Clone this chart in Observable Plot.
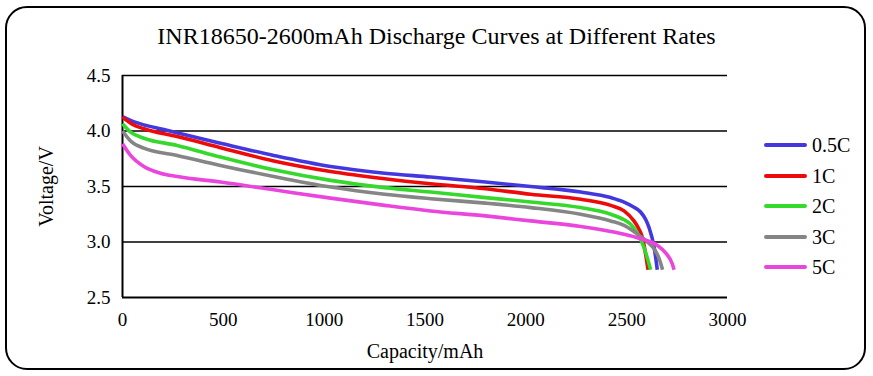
<!DOCTYPE html>
<html>
<head>
<meta charset="utf-8">
<script src="https://cdn.jsdelivr.net/npm/d3@7"></script>
<script src="https://cdn.jsdelivr.net/npm/@observablehq/plot@0.6"></script>
<style>
  html, body { margin: 0; padding: 0; background: #fff; }
  #wrap { position: relative; width: 873px; height: 376px; overflow: hidden; font-family: "Liberation Serif", "Times New Roman", serif; }
  #frame { position: absolute; left: 5px; top: 6px; width: 861px; height: 364px; box-sizing: border-box; border: 2px solid #000; border-radius: 22px; }
  #title { position: absolute; left: 0; width: 873px; top: 21px; text-align: center; font-size: 24px; color: #000; line-height: 30px; font-family: "Liberation Serif", serif; }
  #legend { position: absolute; left: 764px; top: 130px; }
  .row { display: flex; align-items: center; height: 30.5px; }
  .sw { width: 43px; height: 4px; border-radius: 2px; margin-right: 5px; }
  .lb { font-size: 20px; color: #000; line-height: 20px; font-family: "Liberation Serif", serif; }
  #chart { position: absolute; left: 0; top: 0; }
  #chart svg text { font-family: "Liberation Serif", serif; }
  #chart svg g[aria-label="x-axis label"] text, #chart svg g[aria-label="y-axis label"] text { font-size: 20px; }
</style>
</head>
<body>
<div id="wrap">
  <div id="frame"></div>
  <div id="title"></div>
  <div id="chart"></div>
  <div id="legend"></div>
</div>
<script>
const title = "INR18650-2600mAh Discharge Curves at Different Rates";
const xLabel = "Capacity/mAh";
const yLabel = "Voltage/V";
const xTicks = [0, 500, 1000, 1500, 2000, 2500, 3000];
const yTicks = [2.5, 3.0, 3.5, 4.0, 4.5];
const seriesNames = ["0.5C", "1C", "2C", "3C", "5C"];
const seriesColors = ["#4338e0", "#ee0a0a", "#35d92b", "#858585", "#ea45dc"];

// capacity (mAh), voltage (V)
const cap05 = [0, 40, 106, 200, 300, 486, 750, 1032, 1300, 1528, 1800, 2024, 2272, 2421, 2487, 2530, 2569, 2595, 2611, 2636, 2652];
const v05   = [4.13, 4.095, 4.055, 4.015, 3.97, 3.89, 3.78, 3.68, 3.62, 3.585, 3.54, 3.50, 3.45, 3.40, 3.36, 3.32, 3.27, 3.20, 3.13, 2.955, 2.75];

const cap1 = [0, 50, 106, 271, 486, 750, 1032, 1300, 1528, 1800, 2024, 2272, 2421, 2487, 2536, 2560, 2578, 2594, 2606];
const v1   = [4.125, 4.06, 4.02, 3.95, 3.85, 3.73, 3.635, 3.57, 3.525, 3.48, 3.43, 3.385, 3.33, 3.28, 3.19, 3.12, 3.04, 2.89, 2.75];

const cap2 = [0, 40, 106, 271, 486, 750, 1032, 1300, 1528, 1800, 2024, 2272, 2421, 2487, 2520, 2553, 2586, 2619];
const v2   = [4.065, 3.99, 3.935, 3.87, 3.765, 3.65, 3.555, 3.49, 3.45, 3.40, 3.36, 3.31, 3.25, 3.20, 3.16, 3.08, 2.95, 2.75];

const cap3 = [0, 40, 106, 271, 486, 750, 1032, 1300, 1528, 1800, 2024, 2272, 2421, 2487, 2569, 2610, 2636, 2661, 2678];
const v3   = [4.0, 3.91, 3.845, 3.78, 3.69, 3.59, 3.495, 3.43, 3.39, 3.35, 3.31, 3.25, 3.19, 3.15, 3.05, 2.99, 2.94, 2.85, 2.75];

const cap5 = [0, 40, 106, 188, 271, 486, 750, 1032, 1300, 1528, 1800, 2024, 2272, 2421, 2487, 2569, 2652, 2694, 2727, 2735];
const v5   = [3.885, 3.78, 3.68, 3.62, 3.59, 3.54, 3.47, 3.395, 3.33, 3.28, 3.235, 3.19, 3.14, 3.095, 3.07, 3.03, 2.97, 2.90, 2.80, 2.75];

const caps = [cap05, cap1, cap2, cap3, cap5];
const volts = [v05, v1, v2, v3, v5];
const data = seriesNames.flatMap((s, i) => caps[i].map((c, j) => ({series: s, cap: c, v: volts[i][j]})));

document.getElementById("title").textContent = title;

const chart = Plot.plot({
  width: 873,
  height: 376,
  marginLeft: 122,
  marginRight: 146,
  marginTop: 75,
  marginBottom: 79,
  style: { fontFamily: "Liberation Serif, serif", fontSize: "19px", color: "#000", background: "transparent", overflow: "visible" },
  x: { domain: [0, 3000] },
  y: { domain: [2.5, 4.5] },
  color: { domain: seriesNames, range: seriesColors },
  marks: [
    Plot.gridY(yTicks.slice(1), { stroke: "#000", strokeOpacity: 1, strokeWidth: 1.3 }),
    Plot.ruleY([2.5], { stroke: "#000", strokeWidth: 2 }),
    Plot.ruleX([0], { stroke: "#000", strokeWidth: 2 }),
    Plot.line(data, { x: "cap", y: "v", z: "series", stroke: "series", curve: "monotone-x", strokeWidth: 3.6, strokeLinejoin: "round", strokeLinecap: "butt" }),
    Plot.axisX({ ticks: xTicks, tickSize: 0, tickPadding: 15, tickFormat: d => String(d), label: xLabel, labelAnchor: "center", labelArrow: "none", labelOffset: 60, fontSize: 19 }),
    Plot.axisY({ ticks: yTicks, tickSize: 0, tickPadding: 12, tickFormat: d => d.toFixed(1), label: yLabel, labelAnchor: "center", labelArrow: "none", labelOffset: 84, fontSize: 19 })
  ]
});
document.getElementById("chart").appendChild(chart);

const legend = document.getElementById("legend");
seriesNames.forEach((s, i) => {
  const row = document.createElement("div");
  row.className = "row";
  const sw = document.createElement("div");
  sw.className = "sw";
  sw.style.background = seriesColors[i];
  const lb = document.createElement("div");
  lb.className = "lb";
  lb.textContent = s;
  row.appendChild(sw);
  row.appendChild(lb);
  legend.appendChild(row);
});
</script>
</body>
</html>
